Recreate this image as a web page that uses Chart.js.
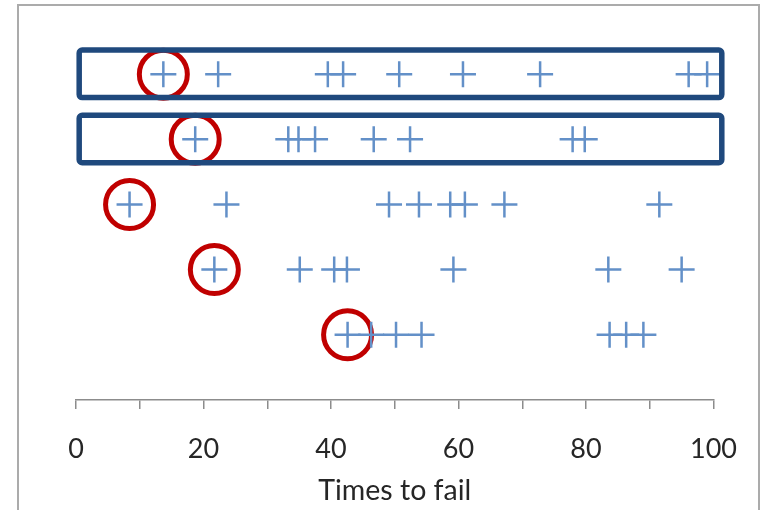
<!DOCTYPE html>
<html>
<head>
<meta charset="utf-8">
<script src="https://cdn.jsdelivr.net/npm/chart.js@4"></script>
<style>
  html, body { margin: 0; padding: 0; background: #ffffff; }
  #wrap { position: relative; width: 761px; height: 510px; overflow: hidden; }
  #frame { position: absolute; left: 17px; top: 4px; width: 743px; height: 530px;
           border: 2px solid #ababab; box-sizing: border-box; }
  #c { position: absolute; left: 0; top: 0; }
</style>
</head>
<body>
<div id="wrap">
  <div id="frame"></div>
  <canvas id="c" width="761" height="510"></canvas>
</div>
<script>
// Failure times for each unit, one row per unit (top row first)
const rowLevels = [5, 4, 3, 2, 1];
const failures1 = [13.7, 22.3, 39.5, 41.9, 50.7, 60.7, 72.8, 96.1, 99.0];
const failures2 = [18.7, 33.3, 34.9, 37.5, 46.7, 52.4, 77.9, 79.8];
const failures3 = [8.4, 23.6, 49.1, 53.8, 58.7, 61.0, 67.2, 91.5];
const failures4 = [21.7, 35.1, 40.5, 42.5, 59.2, 83.5, 95.0];
const failures5 = [42.6, 46.3, 50.2, 54.2, 83.7, 86.3, 89.0];
const xTickLabels = [0, 20, 40, 60, 80, 100];
// Rows that get a box drawn around them
const boxedRows = [5, 4];

const allRows = [failures1, failures2, failures3, failures4, failures5];

const crossColor = '#6390c8';
const ringColor = '#c00000';
const boxColor = '#1f497d';
const axisGray = '#8c8c8c';
const textColor = '#262626';
const fontFamily = "Lato, 'Open Sans', 'Liberation Sans', sans-serif";

const rowDatasets = allRows.map((vals, i) => ({
  label: 'Unit ' + (i + 1),
  data: vals.map(v => ({ x: v, y: rowLevels[i] })),
  pointStyle: 'cross',
  pointRadius: 13,
  pointHoverRadius: 13,
  pointBorderWidth: 2.5,
  borderColor: crossColor,
  backgroundColor: crossColor,
  showLine: false,
  clip: false
}));

// Rings around the first failure of every unit
const firstFailures = {
  label: 'First failure',
  data: allRows.map((vals, i) => ({ x: Math.min(...vals), y: rowLevels[i] })),
  pointStyle: 'circle',
  pointRadius: 24,
  pointHoverRadius: 24,
  pointBorderWidth: 5,
  borderColor: ringColor,
  backgroundColor: 'rgba(0,0,0,0)',
  showLine: false,
  clip: false
};

const rowBoxes = {
  id: 'rowBoxes',
  afterDatasetsDraw(chart) {
    const { ctx, scales: { x, y } } = chart;
    ctx.save();
    ctx.strokeStyle = boxColor;
    ctx.lineWidth = 5.5;
    boxedRows.forEach(r => {
      const left = x.getPixelForValue(0.5);
      const right = x.getPixelForValue(101.3);
      const top = y.getPixelForValue(r + 0.37);
      const bottom = y.getPixelForValue(r - 0.36);
      ctx.beginPath();
      ctx.roundRect(left, top, right - left, bottom - top, 3);
      ctx.stroke();
    });
    ctx.restore();
  }
};

new Chart(document.getElementById('c'), {
  type: 'scatter',
  data: { datasets: [...rowDatasets, firstFailures] },
  options: {
    responsive: false,
    devicePixelRatio: 1,
    animation: false,
    events: [],
    layout: { autoPadding: false, padding: { left: 76, right: 43, top: 9, bottom: 0 } },
    plugins: { legend: { display: false }, tooltip: { enabled: false } },
    scales: {
      y: { display: false, min: 0, max: 6 },
      x: {
        type: 'linear',
        min: 0,
        max: 100,
        border: { display: true, color: axisGray, width: 1.5 },
        grid: { drawOnChartArea: false, drawTicks: true, tickLength: 9, color: axisGray, lineWidth: 1.5 },
        ticks: {
          stepSize: 10,
          autoSkip: false,
          maxRotation: 0,
          padding: 24,
          color: textColor,
          font: { family: fontFamily, size: 27 },
          callback: v => (xTickLabels.includes(v) ? String(v) : '')
        },
        title: {
          display: true,
          text: 'Times to fail',
          color: textColor,
          font: { family: fontFamily, size: 28.5 },
          padding: { top: -16, bottom: 2.5 }
        }
      }
    }
  },
  plugins: [rowBoxes]
});
</script>
</body>
</html>
